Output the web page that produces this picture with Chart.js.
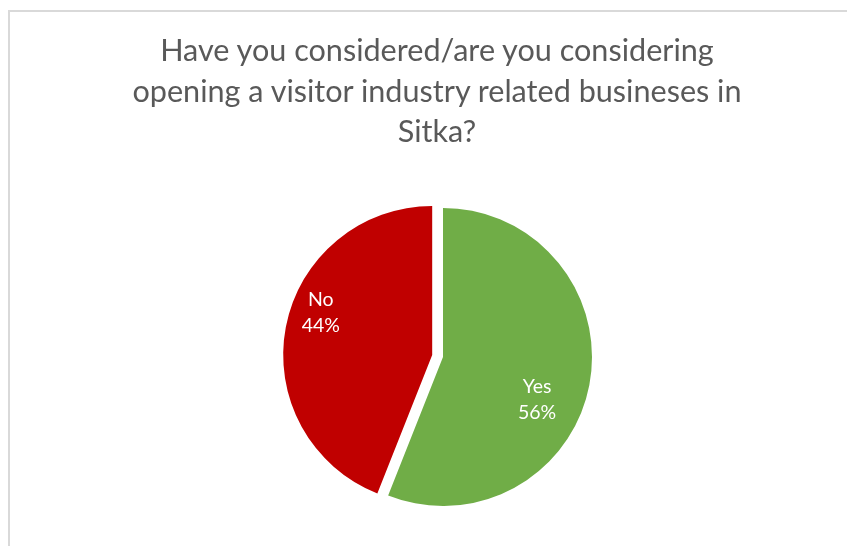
<!DOCTYPE html>
<html><head><meta charset="utf-8">
<script src="https://cdn.jsdelivr.net/npm/chart.js@4"></script>
<style>
html,body{margin:0;padding:0;background:#fff;}
#wrap{position:relative;width:847px;height:546px;overflow:hidden;background:#fff;}
#frame{position:absolute;left:8px;top:10px;width:900px;height:600px;border-top:2px solid #d9d9d9;border-left:2px solid #d9d9d9;}
#title{position:absolute;left:27px;right:0;top:30px;text-align:center;color:#595959;font-family:Lato,"Open Sans",sans-serif;font-size:28px;line-height:40.5px;white-space:nowrap;}
#c{position:absolute;left:0;top:0;}
</style>
</head><body>
<div id="wrap">
  <div id="frame"></div>
  <canvas id="c" width="847" height="546"></canvas>
  <div id="title"></div>
</div>
<script>
// ---- data ----
const titleLines = [
  "Have you considered/are you considering",
  "opening a visitor industry related busineses in",
  "Sitka?"
];
const categories = ["Yes", "No"];
const values = [56, 44];
const percentLabels = ["56%", "44%"];
const sliceColors = ["#70AD47", "#C00000"];

// ---- title (real HTML text), font size fitted to the reference line width ----
const titleEl = document.getElementById('title');
(function(){
  const m = document.createElement('canvas').getContext('2d');
  m.font = '100px Lato';
  const w = m.measureText(titleLines[1]).width;
  const size = Math.round(612 / w * 100 * 10) / 10;
  titleEl.style.fontSize = size + 'px';
})();
titleLines.forEach(t => { const d = document.createElement('div'); d.textContent = t; titleEl.appendChild(d); });

// ---- plugins ----
const explodePlugin = {
  id: 'explode',
  beforeDatasetsDraw(chart, args, opts) {
    chart.getDatasetMeta(0).data.forEach((arc, i) => {
      const d = opts.distance[i] || 0;
      arc._ox = arc.x; arc._oy = arc.y;
      const mid = (arc.startAngle + arc.endAngle) / 2;
      arc.x += Math.cos(mid) * d; arc.y += Math.sin(mid) * d;
    });
  },
  afterDraw(chart) {
    chart.getDatasetMeta(0).data.forEach(arc => {
      if (arc._ox !== undefined) { arc.x = arc._ox; arc.y = arc._oy; }
    });
  }
};
const labelPlugin = {
  id: 'sliceLabels',
  afterDatasetsDraw(chart, args, opts) {
    const ctx = chart.ctx;
    chart.getDatasetMeta(0).data.forEach((arc, i) => {
      const a = (arc.startAngle + arc.endAngle) / 2 + opts.angleShift[i] * Math.PI / 180;
      const r = arc.outerRadius * opts.radiusFrac[i];
      const x = arc.x + Math.cos(a) * r, y = arc.y + Math.sin(a) * r;
      ctx.save();
      ctx.fillStyle = '#ffffff';
      ctx.font = opts.font;
      ctx.textAlign = 'center';
      ctx.textBaseline = 'middle';
      ctx.fillText(categories[i], x, y - opts.lineGap / 2);
      ctx.fillText(percentLabels[i], x, y + opts.lineGap / 2);
      ctx.restore();
    });
  }
};

new Chart(document.getElementById('c'), {
  type: 'pie',
  data: {
    labels: categories,
    datasets: [{
      data: values,
      backgroundColor: sliceColors,
      borderWidth: 0,
      radius: 149
    }]
  },
  options: {
    responsive: false,
    animation: false,
    events: [],
    layout: { padding: { left: 39, right: 0, top: 168, bottom: 0 } },
    plugins: {
      legend: { display: false },
      tooltip: { enabled: false },
      title: { display: false },
      explode: { distance: [0, 11] },
      sliceLabels: { angleShift: [13.8, 10], radiusFrac: [0.694, 0.80], lineGap: 26, font: '19.5px Lato' }
    }
  },
  plugins: [explodePlugin, labelPlugin]
});
</script>
</body></html>
